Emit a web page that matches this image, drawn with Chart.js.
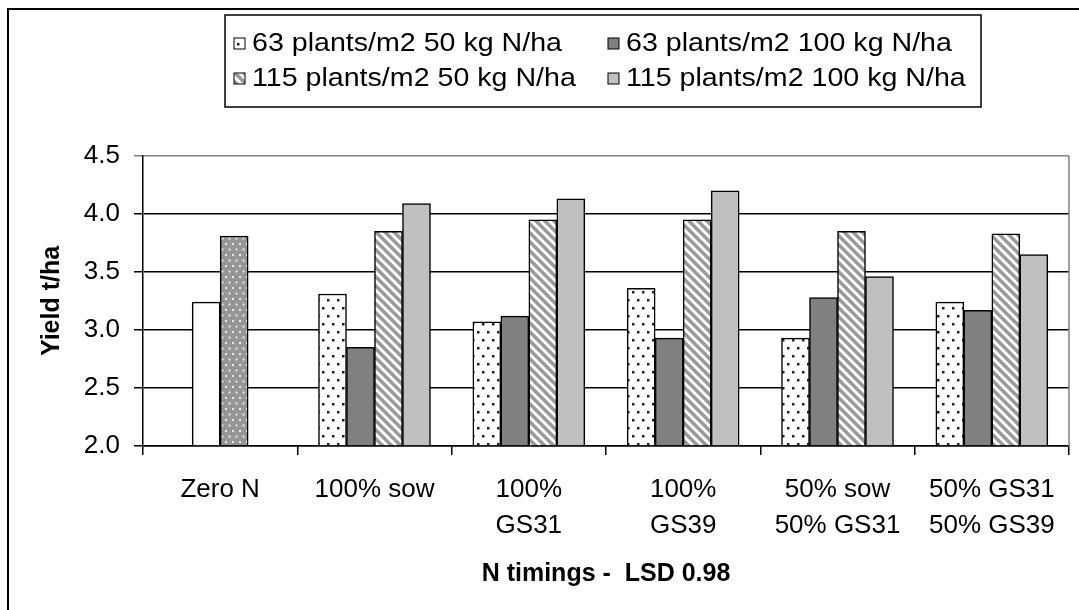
<!DOCTYPE html>
<html>
<head>
<meta charset="utf-8">
<script src="https://cdn.jsdelivr.net/npm/chart.js@4/dist/chart.umd.min.js"></script>
<style>
  html, body { margin: 0; padding: 0; background: #fff; }
  #wrap { width: 1079px; height: 610px; }
</style>
</head>
<body>
<div id="wrap"><canvas id="chart"></canvas></div>
<script>
const categories = [
  ['Zero N'],
  ['100% sow'],
  ['100%', 'GS31'],
  ['100%', 'GS39'],
  ['50% sow', '50% GS31'],
  ['50% GS31', '50% GS39']
];

// Zero N bars (not in legend)
const zeroN63 = [3.24, null, null, null, null, null];
const zeroN115 = [3.81, null, null, null, null, null];

const p63n50 = [null, 3.31, 3.07, 3.36, 2.93, 3.24];
const p63n100 = [null, 2.85, 3.12, 2.93, 3.28, 3.17];
const p115n50 = [null, 3.85, 3.95, 3.95, 3.85, 3.83];
const p115n100 = [null, 4.09, 4.13, 4.20, 3.46, 3.65];

const yMin = 2.0;
const yMax = 4.5;
const yStep = 0.5;

const FONT = "'Liberation Sans', Arial, sans-serif";

function makeTile(w, h, paint) {
  const c = document.createElement('canvas');
  c.width = w;
  c.height = h;
  const g = c.getContext('2d');
  paint(g, w, h);
  return g.createPattern(c, 'repeat');
}

// white with dark dots
const dotsWhite = makeTile(10, 16, (g, w, h) => {
  g.fillStyle = '#fff';
  g.fillRect(0, 0, w, h);
  g.fillStyle = '#222';
  g.fillRect(2, 3, 2.5, 2.5);
  g.fillRect(7, 11, 2.5, 2.5);
});

// gray with light dots
const dotsGray = makeTile(7, 11, (g, w, h) => {
  g.fillStyle = '#969696';
  g.fillRect(0, 0, w, h);
  g.fillStyle = '#e8e8e8';
  g.fillRect(1, 1, 2, 2);
  g.fillRect(4.5, 6.5, 2, 2);
});

// white with gray diagonal stripes
const hatch = makeTile(9, 9, (g, w, h) => {
  g.fillStyle = '#fff';
  g.fillRect(0, 0, w, h);
  g.strokeStyle = '#9a9a9a';
  g.lineWidth = 3.5;
  for (const o of [-9, 0, 9]) {
    g.beginPath();
    g.moveTo(o - 1, -1);
    g.lineTo(o + 10, 10);
    g.stroke();
  }
});

function series(label, data, fill, inLegend) {
  return {
    label: label,
    data: data,
    backgroundColor: fill,
    borderColor: '#000',
    borderWidth: 1.5,
    base: yMin,
    inLegend: inLegend
  };
}

const datasets = [
  series('Zero N 63 plants/m2', zeroN63, '#fff', false),
  series('Zero N 115 plants/m2', zeroN115, dotsGray, false),
  series('63 plants/m2 50 kg N/ha', p63n50, dotsWhite, true),
  series('63 plants/m2 100 kg N/ha', p63n100, '#808080', true),
  series('115 plants/m2 50 kg N/ha', p115n50, hatch, true),
  series('115 plants/m2 100 kg N/ha', p115n100, '#c0c0c0', true)
];

const framePlugin = {
  id: 'frame',
  beforeDraw(chart) {
    const ctx = chart.ctx;
    ctx.save();
    ctx.fillStyle = '#fff';
    ctx.fillRect(0, 0, chart.width, chart.height);
    ctx.strokeStyle = '#000';
    ctx.lineWidth = 2;
    ctx.strokeRect(8, 9, chart.width + 40, chart.height + 40);
    ctx.restore();
  },
  afterDraw(chart) {
    const ctx = chart.ctx;
    const area = chart.chartArea;
    ctx.save();
    // right edge of plot area
    ctx.strokeStyle = '#808080';
    ctx.lineWidth = 1.5;
    ctx.beginPath();
    ctx.moveTo(area.right, area.top);
    ctx.lineTo(area.right, area.bottom);
    ctx.stroke();

    // legend box
    ctx.fillStyle = '#fff';
    ctx.strokeStyle = '#000';
    ctx.lineWidth = 1.5;
    ctx.fillRect(225, 15, 756, 92);
    ctx.strokeRect(225, 15, 756, 92);

    const items = chart.data.datasets.filter(d => d.inLegend);
    const colX = [234, 608];
    const rowY = [43, 78];
    ctx.font = '26px ' + FONT;
    ctx.textBaseline = 'middle';
    ctx.textAlign = 'left';
    items.forEach((d, i) => {
      const x = colX[i % 2];
      const y = rowY[Math.floor(i / 2)];
      ctx.fillStyle = d.backgroundColor;
      ctx.fillRect(x, y - 5, 11, 11);
      ctx.lineWidth = 1;
      ctx.strokeStyle = '#000';
      ctx.strokeRect(x, y - 5, 11, 11);
      ctx.fillStyle = '#000';
      ctx.save();
      ctx.translate(x + 18, y + 1);
      ctx.scale(1.1, 1);
      ctx.fillText(d.label, 0, 0);
      ctx.restore();
    });
    ctx.restore();
  }
};

new Chart(document.getElementById('chart'), {
  type: 'bar',
  data: {
    labels: categories,
    datasets: datasets
  },
  options: {
    responsive: true,
    maintainAspectRatio: false,
    animation: false,
    layout: { padding: { top: 156, right: 10, bottom: 0, left: 0 } },
    datasets: {
      bar: { skipNull: true, barThickness: 28 }
    },
    plugins: {
      legend: { display: false },
      tooltip: { enabled: false }
    },
    scales: {
      x: {
        afterFit: (scale) => { scale.height = 164; },
        grid: {
          offset: true,
          drawOnChartArea: false,
          drawTicks: true,
          tickLength: 9,
          color: '#000',
          lineWidth: 1.5
        },
        border: { display: true, color: '#000', width: 1.5 },
        ticks: {
          autoSkip: false,
          maxRotation: 0,
          padding: 17,
          color: '#000',
          font: { family: FONT, size: 26, lineHeight: 1.38 }
        },
        title: {
          display: true,
          text: 'N timings -  LSD 0.98',
          color: '#000',
          padding: { top: 0, bottom: 21 },
          font: { family: FONT, size: 25, weight: 'bold', lineHeight: 1.2 }
        }
      },
      y: {
        min: yMin,
        max: yMax,
        afterFit: (scale) => { scale.width = 143; },
        grid: {
          color: (c) => (c.tick && c.tick.value === yMax ? '#808080' : '#000'),
          lineWidth: 1.5,
          tickLength: 9
        },
        border: { display: true, color: '#000', width: 1.5 },
        ticks: {
          stepSize: yStep,
          padding: 14,
          color: '#000',
          font: { family: FONT, size: 26 },
          callback: (v) => v.toFixed(1)
        },
        title: {
          display: true,
          text: 'Yield t/ha',
          color: '#000',
          padding: { top: 37, bottom: 0 },
          font: { family: FONT, size: 25, weight: 'bold', lineHeight: 1.2 }
        }
      }
    }
  },
  plugins: [framePlugin]
});
</script>
</body>
</html>
